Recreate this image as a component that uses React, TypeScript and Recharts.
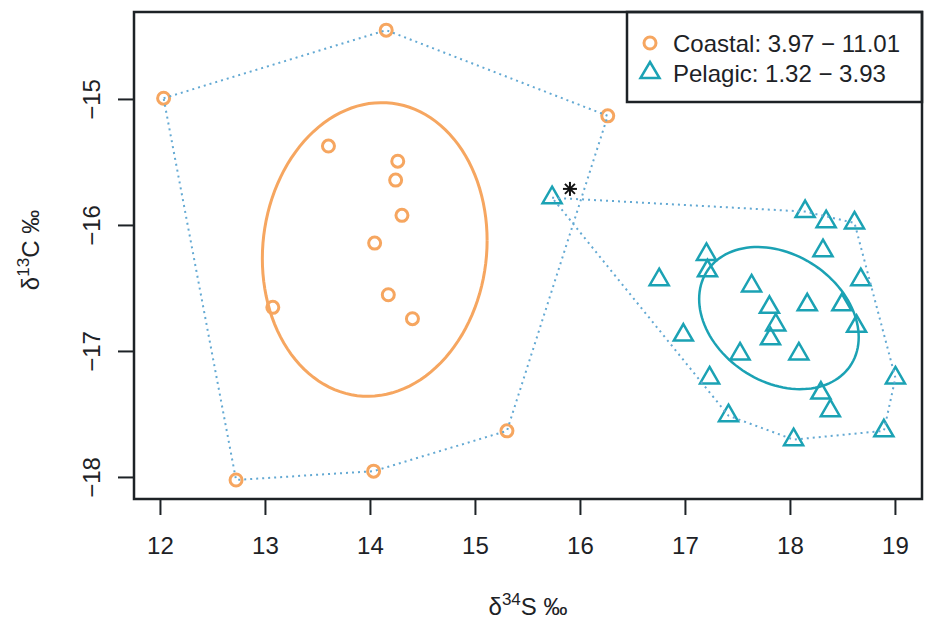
import React from "react";
import { ScatterChart, Scatter, XAxis, YAxis, ReferenceArea } from "recharts";

// axis limits (R style 4% padding) and tick marks
const xDomain = [11.748, 19.253];
const yDomain = [-18.171, -14.306];
const xTicks = [12, 13, 14, 15, 16, 17, 18, 19];
const yTicks = [-18, -17, -16, -15];

// coastal samples (δ34S, δ13C)
const coastalX = [12.03, 14.15, 16.26, 13.6, 14.26, 14.24, 14.3, 14.04, 14.17, 14.4, 13.07, 15.3, 14.03, 12.72];
const coastalY = [-14.99, -14.45, -15.13, -15.37, -15.49, -15.64, -15.92, -16.14, -16.55, -16.74, -16.65, -17.63, -17.95, -18.02];

// pelagic samples
const pelagicX = [
  15.73, 18.14, 18.34, 18.61, 18.31, 17.2, 17.21, 16.75, 18.67, 17.63, 17.8, 18.16, 18.49,
  17.86, 18.63, 17.81, 16.98, 17.52, 18.08, 19.0, 17.23, 18.29, 18.38, 17.41, 18.89, 18.03,
];
const pelagicY = [
  -15.78, -15.89, -15.97, -15.98, -16.2, -16.23, -16.36, -16.43, -16.43, -16.48, -16.65, -16.63, -16.63,
  -16.79, -16.8, -16.9, -16.87, -17.02, -17.02, -17.21, -17.21, -17.33, -17.47, -17.51, -17.63, -17.7,
];

// convex hull vertices (indices into the arrays above)
const coastalHull = [0, 1, 2, 11, 12, 13, 0];
const pelagicHull = [0, 1, 3, 19, 24, 25, 23, 0];

const asteriskPoint = [{ x: 15.9, y: -15.71 }];

const legendLabels = ["Coastal: 3.97 \u2212 11.01", "Pelagic: 1.32 \u2212 3.93"];

const ORANGE = "#F6A660";
const TEAL = "#1BA2B4";
const HULL = "#63A9D3";
const INK = "#1d2226";
const FONT = "'Liberation Sans', Arial, sans-serif";

const toPoints = (xs: number[], ys: number[]) => xs.map((x, i) => ({ x, y: ys[i] }));

// small-sample corrected standard ellipse (SEAc) from the sample covariance
function standardEllipse(xs: number[], ys: number[], steps = 120) {
  const n = xs.length;
  const mx = xs.reduce((a, b) => a + b, 0) / n;
  const my = ys.reduce((a, b) => a + b, 0) / n;
  let sxx = 0, syy = 0, sxy = 0;
  for (let i = 0; i < n; i++) {
    sxx += (xs[i] - mx) ** 2;
    syy += (ys[i] - my) ** 2;
    sxy += (xs[i] - mx) * (ys[i] - my);
  }
  const k = 1 / (n - 2);
  sxx *= k; syy *= k; sxy *= k;
  const l11 = Math.sqrt(sxx);
  const l21 = sxy / l11;
  const l22 = Math.sqrt(syy - l21 * l21);
  const out = [];
  for (let s = 0; s <= steps; s++) {
    const t = (2 * Math.PI * s) / steps;
    out.push({ x: mx + l11 * Math.cos(t), y: my + l21 * Math.cos(t) + l22 * Math.sin(t) });
  }
  return out;
}

const coastal = toPoints(coastalX, coastalY);
const pelagic = toPoints(pelagicX, pelagicY);
const coastalHullPts = coastalHull.map((i) => coastal[i]);
const pelagicHullPts = pelagicHull.map((i) => pelagic[i]);
const coastalEllipse = standardEllipse(coastalX, coastalY);
const pelagicEllipse = standardEllipse(pelagicX, pelagicY);

const Nothing = () => <g />;

const Circle = (p: any) => <circle cx={p.cx} cy={p.cy} r={6} fill="none" stroke={ORANGE} strokeWidth={3} />;

const Triangle = (p: any) => {
  const r = 11;
  const xc = r * 0.866;
  return (
    <polygon
      points={`${p.cx},${p.cy - r} ${p.cx + xc},${p.cy + r / 2} ${p.cx - xc},${p.cy + r / 2}`}
      fill="none"
      stroke={TEAL}
      strokeWidth={2.5}
    />
  );
};

const Asterisk = (p: any) => {
  const a = 7, d = 5;
  return (
    <g stroke="#111" strokeWidth={2}>
      <line x1={p.cx - a} y1={p.cy} x2={p.cx + a} y2={p.cy} />
      <line x1={p.cx} y1={p.cy - a} x2={p.cx} y2={p.cy + a} />
      <line x1={p.cx - d} y1={p.cy - d} x2={p.cx + d} y2={p.cy + d} />
      <line x1={p.cx - d} y1={p.cy + d} x2={p.cx + d} y2={p.cy - d} />
    </g>
  );
};

const minus = (v: number) => String(v).replace("-", "\u2212");

const YTick = (p: any) => (
  <text
    x={p.x}
    y={p.y}
    transform={`rotate(-90, ${p.x}, ${p.y})`}
    textAnchor="middle"
    fontSize={24}
    fontFamily={FONT}
    fill={INK}
  >
    {minus(p.payload.value)}
  </text>
);

const hullLine = { stroke: HULL, strokeWidth: 2, strokeDasharray: "2 4" };

export default function App() {
  return (
    <div style={{ position: "absolute", left: 0, top: 0, background: "#fff" }}>
      <ScatterChart width={925} height={621} margin={{ top: 12, right: 3, bottom: 62, left: 0 }}>
        <XAxis
          type="number"
          dataKey="x"
          domain={xDomain}
          ticks={xTicks}
          allowDataOverflow
          height={60}
          axisLine={false}
          tickSize={16}
          tickMargin={22}
          tickLine={{ stroke: INK, strokeWidth: 2 }}
          tick={{ fill: INK, fontSize: 24, fontFamily: FONT }}
        />
        <YAxis
          type="number"
          dataKey="y"
          domain={yDomain}
          ticks={yTicks}
          allowDataOverflow
          width={134}
          axisLine={false}
          tickSize={16}
          tickMargin={18}
          tickLine={{ stroke: INK, strokeWidth: 2 }}
          tick={<YTick />}
        />
        <ReferenceArea
          x1={xDomain[0]}
          x2={xDomain[1]}
          y1={yDomain[0]}
          y2={yDomain[1]}
          fill="none"
          fillOpacity={0}
          stroke={INK}
          strokeWidth={2.5}
          ifOverflow="visible"
        />
        <Scatter data={coastal} shape={Circle} isAnimationActive={false} legendType="none" />
        <Scatter data={pelagic} shape={Triangle} isAnimationActive={false} legendType="none" />
        <Scatter data={coastalHullPts} line={hullLine} shape={Nothing} isAnimationActive={false} legendType="none" />
        <Scatter data={pelagicHullPts} line={hullLine} shape={Nothing} isAnimationActive={false} legendType="none" />
        <Scatter
          data={coastalEllipse}
          line={{ stroke: ORANGE, strokeWidth: 3 }}
          shape={Nothing}
          isAnimationActive={false}
          legendType="none"
        />
        <Scatter
          data={pelagicEllipse}
          line={{ stroke: TEAL, strokeWidth: 2.5 }}
          shape={Nothing}
          isAnimationActive={false}
          legendType="none"
        />
        <Scatter data={asteriskPoint} shape={Asterisk} isAnimationActive={false} legendType="none" />

        {/* axis titles */}
        <text x={528} y={615} textAnchor="middle" fontSize={24} fontFamily={FONT} fill={INK}>
          δ<tspan dy={-10} fontSize={17}>34</tspan>
          <tspan dy={10}>S ‰</tspan>
        </text>
        <text
          transform="translate(39, 250) rotate(-90)"
          textAnchor="middle"
          fontSize={24}
          fontFamily={FONT}
          fill={INK}
        >
          δ<tspan dy={-10} fontSize={17}>13</tspan>
          <tspan dy={10}>C ‰</tspan>
        </text>

        {/* legend */}
        <g fontFamily={FONT} fontSize={24} fill={INK}>
          <rect x={627} y={12} width={295} height={90} fill="#fff" stroke={INK} strokeWidth={2.5} />
          <circle cx={650} cy={43} r={6} fill="none" stroke={ORANGE} strokeWidth={3} />
          <polygon points="650,62 659.5,78 640.5,78" fill="none" stroke={TEAL} strokeWidth={2.5} />
          <text x={673} y={52}>{legendLabels[0]}</text>
          <text x={673} y={82}>{legendLabels[1]}</text>
        </g>
      </ScatterChart>
    </div>
  );
}
